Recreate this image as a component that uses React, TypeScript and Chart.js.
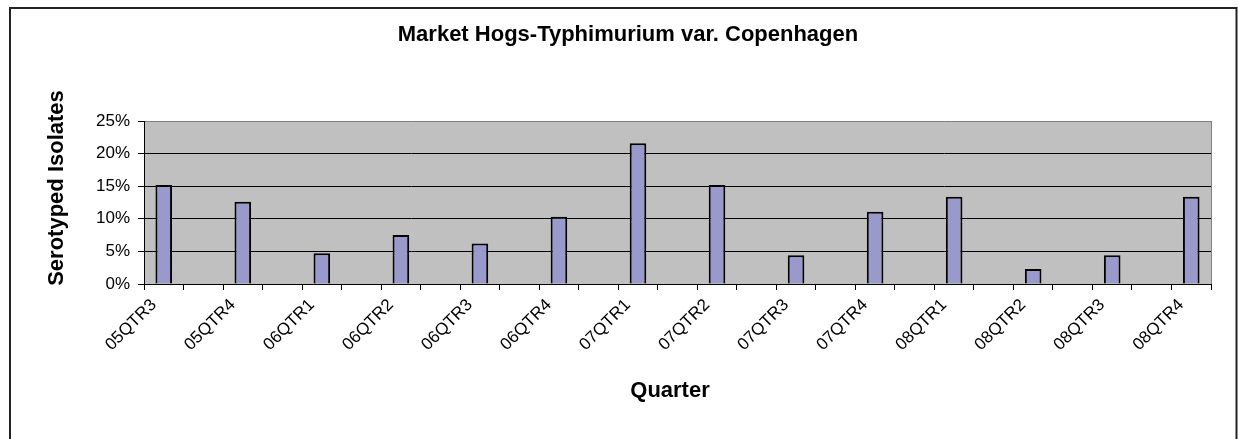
import React, { useEffect, useRef } from "react";
import { Chart, registerables } from "chart.js";

Chart.register(...registerables);

const quarters = [
  "05QTR3", "05QTR4", "06QTR1", "06QTR2", "06QTR3", "06QTR4", "07QTR1",
  "07QTR2", "07QTR3", "07QTR4", "08QTR1", "08QTR2", "08QTR3", "08QTR4",
];
const isolatePct = [15.2, 12.6, 4.7, 7.5, 6.2, 10.3, 21.6, 15.2, 4.4, 11.1, 13.4, 2.3, 4.4, 13.4];
const yTickValues = [0, 5, 10, 15, 20, 25];

const chartTitle = "Market Hogs-Typhimurium var. Copenhagen";
const yTitle = "Serotyped Isolates";
const xTitle = "Quarter";

const FONT = "'Liberation Sans', Arial, Helvetica, sans-serif";

// Excel-style category axis: a blank category between every quarter
const labels: string[] = [];
const values: (number | null)[] = [];
quarters.forEach((q, i) => {
  labels.push(q);
  values.push(isolatePct[i]);
  if (i < quarters.length - 1) {
    labels.push("");
    values.push(null);
  }
});

const framePlugin = {
  id: "frame",
  beforeDraw(chart: any) {
    const { ctx, chartArea } = chart;
    ctx.save();
    ctx.fillStyle = "#ffffff";
    ctx.fillRect(0, 0, chart.width, chart.height);
    ctx.fillStyle = "#C0C0C0";
    ctx.fillRect(chartArea.left, chartArea.top, chartArea.right - chartArea.left, chartArea.bottom - chartArea.top);
    ctx.restore();
  },
  afterDraw(chart: any) {
    const { ctx, chartArea } = chart;
    ctx.save();
    // plot area right edge (gray)
    ctx.strokeStyle = "#808080";
    ctx.lineWidth = 1;
    ctx.beginPath();
    ctx.moveTo(Math.round(chartArea.right) + 0.5, chartArea.top);
    ctx.lineTo(Math.round(chartArea.right) + 0.5, chartArea.bottom);
    ctx.stroke();
    // outer chart border
    ctx.strokeStyle = "#222222";
    ctx.lineWidth = 2;
    ctx.beginPath();
    ctx.moveTo(10, chart.height + 5);
    ctx.lineTo(10, 8);
    ctx.lineTo(1236.5, 8);
    ctx.lineTo(1236.5, chart.height + 5);
    ctx.stroke();
    // titles
    ctx.fillStyle = "#000000";
    ctx.textAlign = "center";
    ctx.textBaseline = "middle";
    ctx.font = `bold 22px ${FONT}`;
    ctx.fillText(chartTitle, 628, 35);
    ctx.font = `bold 22px ${FONT}`;
    ctx.fillText(xTitle, 670, 391);
    ctx.translate(57, 188);
    ctx.rotate(-Math.PI / 2);
    ctx.fillText(yTitle, 0, 0);
    ctx.restore();
  },
};

export default function App() {
  const canvasRef = useRef<HTMLCanvasElement | null>(null);

  useEffect(() => {
    const canvas = canvasRef.current;
    if (!canvas) return;
    const chart = new Chart(canvas, {
      type: "bar",
      data: {
        labels,
        datasets: [
          {
            data: values,
            backgroundColor: "#9999CC",
            borderColor: "#000000",
            borderWidth: 2,
            barPercentage: 0.42,
            categoryPercentage: 1,
          },
        ],
      },
      options: {
        responsive: false,
        animation: false,
        devicePixelRatio: 1,
        layout: { padding: { top: 121, right: 27, bottom: 0, left: 0 } },
        plugins: {
          legend: { display: false },
          title: { display: false },
          tooltip: { enabled: false },
        },
        scales: {
          x: {
            offset: true,
            grid: {
              offset: true,
              drawOnChartArea: false,
              color: "#000000",
              tickColor: "#000000",
              tickLength: 6,
            },
            border: { color: "#000000", width: 1 },
            ticks: {
              autoSkip: false,
              maxRotation: 45,
              minRotation: 45,
              padding: 5,
              labelOffset: -10,
              color: "#000000",
              font: { family: FONT, size: 17 },
            },
            afterFit(scale: any) {
              scale.height = 155;
            },
          },
          y: {
            min: 0,
            max: 25,
            afterBuildTicks(scale: any) {
              scale.ticks = yTickValues.map((v) => ({ value: v }));
            },
            grid: {
              color: (c: any) => (c.tick && c.tick.value === 25 ? "#808080" : "#000000"),
              tickColor: "#000000",
              tickLength: 6,
              lineWidth: 1,
            },
            border: { color: "#000000", width: 1 },
            ticks: {
              padding: 8,
              color: "#000000",
              font: { family: FONT, size: 17 },
              callback: (v: any) => `${v}%`,
            },
            afterFit(scale: any) {
              scale.width = 144;
            },
          },
        },
      },
      plugins: [framePlugin],
    });
    return () => chart.destroy();
  }, []);

  return (
    <div style={{ position: "absolute", left: 0, top: 0, width: 1238, height: 439, background: "#fff" }}>
      <canvas ref={canvasRef} width={1238} height={439} style={{ display: "block" }} />
    </div>
  );
}
